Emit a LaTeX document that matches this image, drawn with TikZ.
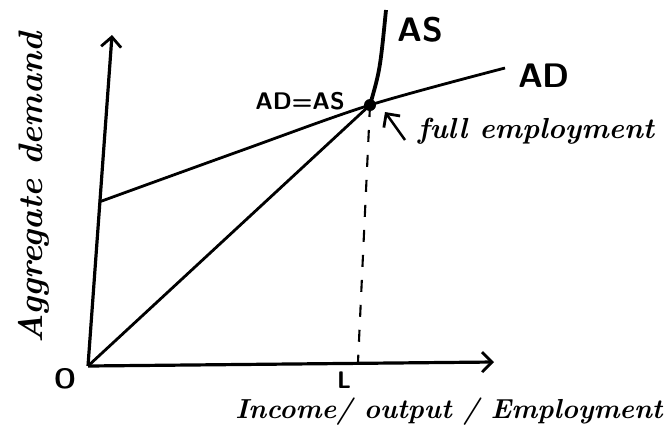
\documentclass[tikz,border=0pt]{standalone}
\usetikzlibrary{arrows.meta,positioning}
\begin{document}
\begin{tikzpicture}[
  x=1pt, y=-1pt,
  >={Straight Barb[length=10pt,width=20pt,line width=2.8pt]},
  axis/.style={->, line width=3.2pt},
  curve/.style={line width=2.8pt},
  guide/.style={line width=2.1pt, dash pattern=on 12pt off 13pt},
  hand/.style={font=\fontsize{29}{31}\selectfont\bfseries\itshape},
  tag/.style={font=\fontsize{34}{36}\selectfont\sffamily\bfseries},
  small/.style={font=\fontsize{24}{26}\selectfont\sffamily\bfseries}
]
\useasboundingbox (0,0) rectangle (669,440);
% points of the diagram
\coordinate (O) at (88,366);
\coordinate (ytop) at (112,35);
\coordinate (xend) at (494,362);
\coordinate (ad0) at (99,202);
\coordinate (ad1) at (505,68);
\coordinate (E) at (370,105);
\coordinate (as1) at (386,10);
\coordinate (L) at (358,362);
\coordinate (ptr) at (405,140);
\coordinate (tip) at (385,112);

\draw[axis] (O) -- (ytop);
\draw[axis] (O) -- (xend);
\draw[curve] plot[smooth, tension=0.5] coordinates {(ad0) (240,151) (E) (ad1)};
\draw[curve] (O) -- (E);
\draw[line width=3.8pt] (E) .. controls (380,70) .. (as1);
\draw[guide] (E) -- (L);
\fill (E) circle (6pt);
\draw[->, line width=2.5pt] (ptr) -- (tip);

% labels
\node[small, font=\fontsize{28}{30}\selectfont\sffamily\bfseries] (olab) at (65,379) {O};
\node[small] (llab) at (344,380) {L};
\node[tag] (aslab) at (420,30) {AS};
\node[tag] (adlab) at (544,76) {AD};
\node[small] (eqlab) at (300,101) {AD=AS};
\node[hand] (full) at (536,131) {full employment};
\node[hand, font=\fontsize{34}{36}\selectfont\bfseries\itshape, rotate=90] (ylab) at (34,188) {Aggregate demand};
\node[hand, font=\fontsize{27.5}{30}\selectfont\bfseries\itshape] (xlab) at (449,412) {Income/ output / Employment};
\end{tikzpicture}
\end{document}
